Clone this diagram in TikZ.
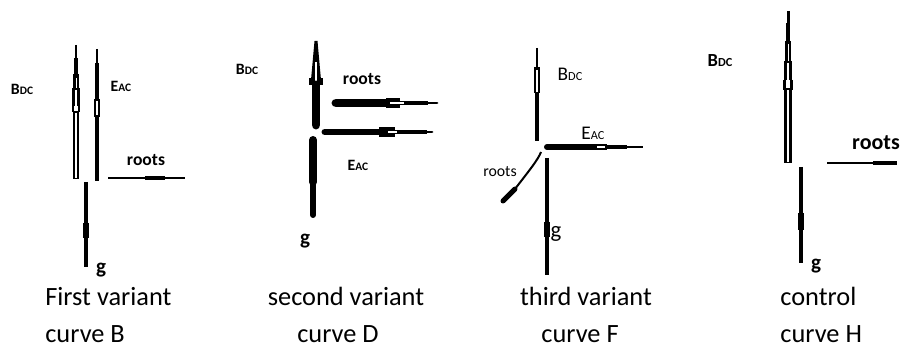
\documentclass[tikz,border=0pt]{standalone}
\usepackage{fontspec}
\setmainfont{Carlito}
\usetikzlibrary{positioning}
\newcommand{\lowcap}[2][6.5]{{\fontsize{#1}{#1}\selectfont #2}}

\begin{document}
\begin{tikzpicture}[x=0.02cm, y=-0.02cm, font=\fontsize{15}{18}\selectfont]
    \tikzset{rod/.style={line width=#1*0.567pt},
             core/.style={white, line width=#1*0.567pt},
             lab/.style={inner sep=0pt, font=\bfseries\fontsize{#1}{#1}\selectfont},
             lab/.default=9,
             plainlab/.style={inner sep=0pt, font=\fontsize{#1}{#1}\selectfont},
             capline/.style={inner sep=0pt}}
    \useasboundingbox (0,0) rectangle (910,354);
    \draw[rod=3] (76,45) -- (76,58);
    \draw[rod=5] (76,58) -- (76,74);
    \draw[rod=6] (76,74) -- (76,88);
    \draw[core=1] (76,78) -- (76,88);
    \draw[rod=8] (76,88) -- (76,106);
    \draw[core=2.5] (76,90) -- (76,106);
    \draw[rod=9] (76,106) -- (76,112);
    \draw[core=3.5] (76,106) -- (76,111);
    \draw[rod=7] (76,112) -- (76,179);
    \draw[core=2] (76,113) -- (76,178);
    \draw[rod=3] (97,49) -- (97,63);
    \draw[rod=4.5] (97,63) -- (97,181);
    \draw[rod=7] (97,99) -- (97,117);
    \draw[core=1.5] (97,101) -- (97,115);
    \draw[rod=3] (108,178) -- (185,178);
    \draw[rod=5] (145,178) -- (165,178);
    \draw[rod=4] (86,182) -- (86,267);
    \draw[rod=6] (86,223) -- (86,238);
    \node[lab] (bdc1) at (22,89) {B\lowcap{DC}};
    \node[lab] (eac1) at (121,86) {E\lowcap{AC}};
    \node[lab=10] (roots1) at (146,160) {roots};
    \node[lab=12] (g1) at (101,270) {g};
    \fill (314.5,41) -- (317.5,41) -- (321,80) -- (311,80) -- cycle;
    \fill (309,78) rectangle (323,85);
    \draw[core=2] (316,62) -- (316,82);
    \draw[rod=9, line cap=round] (316,85) -- (316,125);
    \draw[rod=9, line cap=round] (336,103) -- (387,103);
    \draw[rod=10] (386,103) -- (400,103);
    \draw[rod=5] (400,103) -- (428,103);
    \draw[core=2.5] (390,103) -- (404,103);
    \draw[rod=3, line cap=round] (428,103) -- (437,103);
    \draw[rod=7, line cap=round] (325,132) -- (379,132);
    \draw[rod=10] (379,132) -- (395,132);
    \draw[rod=5] (395,132) -- (427,132);
    \draw[core=2] (388,132) -- (397,132);
    \draw[rod=3, line cap=round] (427,132) -- (432,132);
    \draw[rod=8, line cap=round] (313,140) -- (313,182);
    \draw[rod=6, line cap=round] (313,182) -- (313,215);
    \node[lab] (bdc2) at (247,69) {B\lowcap{DC}};
    \node[lab=10] (roots2) at (362,79) {roots};
    \node[lab] (eac2) at (358,165) {E\lowcap{AC}};
    \node[lab=12] (g2) at (305,241) {g};
    \draw[rod=3] (537,48) -- (537,67);
    \draw[rod=6] (537,67) -- (537,88);
    \draw[core=2] (537,70) -- (537,88);
    \draw[rod=7] (537,88) -- (537,93);
    \draw[core=3] (537,88) -- (537,92);
    \draw[rod=5] (537,93) -- (537,141);
    \draw[rod=6, line cap=round] (547,147) -- (595,147);
    \draw[rod=7] (595,147) -- (607,147);
    \draw[core=2] (597,147) -- (605,147);
    \draw[rod=5] (607,147) -- (627,147);
    \draw[rod=3] (627,147) -- (643,147);
    \draw[rod=2] (541,152) .. controls (538,160) and (528,172) .. (515,189);
    \draw[rod=5, line cap=round] (515,189) -- (503,201);
    \draw[rod=4] (547,158) -- (547,275);
    \draw[rod=6] (547,222) -- (547,237);
    \node[plainlab=11] (bdc3) at (570,74) {B\lowcap[7]{DC}};
    \node[plainlab=11] (eac3) at (593,133) {E\lowcap[7]{AC}};
    \node[plainlab=9] (roots3) at (500,172) {roots};
    \node[plainlab=13] (g3) at (556,234) {g};
    \draw[rod=3] (788,11) -- (788,23);
    \draw[rod=5] (788,23) -- (788,41);
    \draw[rod=7] (788,41) -- (788,61);
    \draw[core=1] (788,44) -- (788,61);
    \draw[rod=8] (788,61) -- (788,80);
    \draw[core=2.5] (788,63) -- (788,80);
    \draw[rod=11] (788,80) -- (788,90);
    \draw[core=3.5] (788,80) -- (788,88);
    \draw[rod=8] (788,90) -- (788,163);
    \draw[core=1.5] (788,90) -- (788,162);
    \draw[rod=3] (827,163) -- (897,163);
    \draw[rod=5] (873,163) -- (897,163);
    \draw[rod=4] (801,167) -- (801,263);
    \draw[rod=6] (801,213) -- (801,230);
    \node[lab=10.5] (bdc4) at (720,61) {B\lowcap[7]{DC}};
    \node[lab=12.5] (roots4) at (876,143) {roots};
    \node[lab=12] (g4) at (816,266) {g};
    \node[capline, anchor=base west] (cap1a) at (45,306) {First variant};
    \node[capline, anchor=base west] (cap1b) at (45,343) {curve B};
    \node[capline, anchor=base] (cap2a) at (346,306) {second variant};
    \node[capline, anchor=base] (cap2b) at (338,343) {curve D};
    \node[capline, anchor=base] (cap3a) at (586,306) {third variant};
    \node[capline, anchor=base] (cap3b) at (580,343) {curve F};
    \node[capline, anchor=base west] (cap4a) at (780,306) {control};
    \node[capline, anchor=base west] (cap4b) at (780,343) {curve H};
  \end{tikzpicture}
\end{document}
